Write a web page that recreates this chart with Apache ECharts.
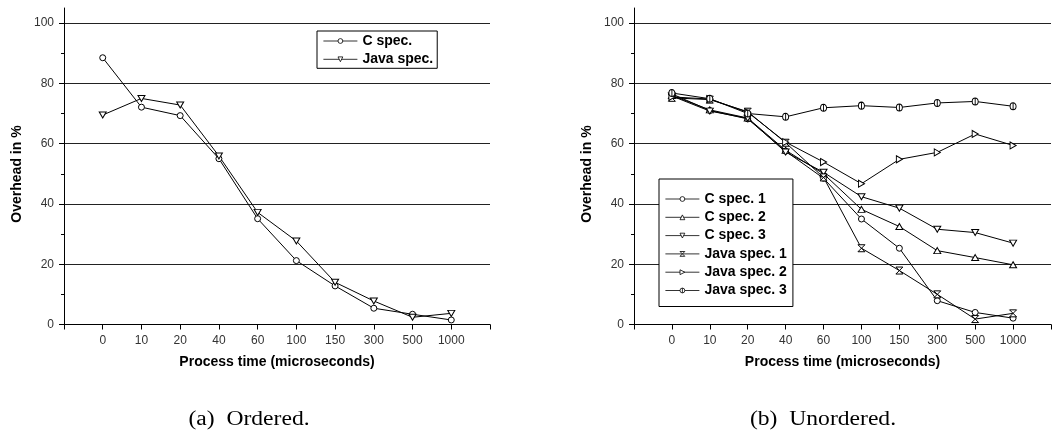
<!DOCTYPE html>
<html>
<head>
<meta charset="utf-8">
<script src="https://cdn.jsdelivr.net/npm/echarts@6/dist/echarts.min.js"></script>
<style>
  html, body { margin: 0; padding: 0; background: #fff; }
  #chart { width: 1054px; height: 446px; }
</style>
</head>
<body>
<div id="chart"></div>
<script>
// Process time categories (microseconds)
const processTimes = ['0', '10', '20', '40', '60', '100', '150', '300', '500', '1000'];
const yMajorTicks = [0, 20, 40, 60, 80, 100];
const yMinorTicks = [10, 30, 50, 70, 90];

// (a) Ordered: overhead in %
const orderedC    = [88.5, 72.1, 69.3, 55.0, 35.1, 21.2, 12.8, 5.4, 3.4, 1.5];
const orderedJava = [69.5, 75.0, 72.8, 55.9, 37.2, 27.7, 14.0, 7.8, 2.4, 3.7];

// (b) Unordered: overhead in %
const unorderedC1 = [76.5, 71.0, 68.2, 57.5, 48.5, 35.0, 25.3, 7.9, 4.0, 2.1];
const unorderedC2 = [76.0, 71.2, 68.5, 57.8, 50.0, 38.2, 32.5, 24.5, 22.2, 19.8];
const unorderedC3 = [75.8, 70.8, 68.4, 57.2, 50.5, 42.4, 38.6, 31.6, 30.5, 27.0];
const unorderedJ1 = [75.2, 74.6, 70.6, 60.3, 48.8, 25.3, 17.9, 10.0, 1.8, 3.7];
const unorderedJ2 = [75.5, 74.8, 70.4, 60.5, 53.9, 46.7, 54.8, 57.1, 63.2, 59.4];
const unorderedJ3 = [76.8, 74.9, 70.0, 68.9, 71.9, 72.6, 72.0, 73.5, 74.0, 72.4];

// One empty slot on each side of the category axis
const axisCategories = [''].concat(processTimes, ['']);
const pad = arr => [null].concat(arr, [null]);

// Marker shapes
const SYM = {
  circle: 'circle',
  triUp: 'path://M5,0L10,10L0,10Z',
  triDown: 'path://M0,0L10,0L5,10Z',
  triRight: 'path://M0,0L10,5L0,10Z',
  hourglass: 'path://M0,0L10,0L0,10L10,10Z',
  phi: 'path://M5,0A5,5,0,1,1,4.99,0ZM5,0L5,10'
};

const FONT = 'Liberation Sans, Arial, Helvetica, sans-serif';
const SERIF = '"Liberation Serif", "Times New Roman", serif';

function makeSeries(name, values, symbol, size, axisIndex) {
  return {
    name: name,
    type: 'line',
    xAxisIndex: axisIndex,
    yAxisIndex: axisIndex * 2,
    data: pad(values),
    symbol: symbol,
    symbolSize: size,
    showSymbol: true,
    connectNulls: false,
    lineStyle: { color: '#000', width: 1 },
    itemStyle: { color: '#fff', borderColor: '#000', borderWidth: 1 },
    emphasis: { disabled: true },
    z: 3
  };
}

function makeX(gridIndex) {
  return {
    type: 'category',
    gridIndex: gridIndex,
    data: axisCategories,
    boundaryGap: false,
    axisLine: { lineStyle: { color: '#000', width: 1 } },
    axisTick: { show: true, interval: 0, length: 5, lineStyle: { color: '#000' } },
    axisLabel: { interval: 0, margin: 10, fontSize: 12, fontFamily: FONT, color: '#333' },
    splitLine: { show: false },
    name: 'Process time (microseconds)',
    nameLocation: 'middle',
    nameGap: 31,
    nameTextStyle: { fontSize: 14, fontWeight: 'bold', fontFamily: FONT, color: '#000' }
  };
}

// Main y axis: line, major ticks, labels and horizontal grid lines
function makeY(gridIndex) {
  return {
    type: 'value',
    gridIndex: gridIndex,
    min: 0,
    max: 105,
    interval: 20,
    axisLine: { show: true, lineStyle: { color: '#000', width: 1 } },
    axisTick: { show: true, length: 5, lineStyle: { color: '#000' }, customValues: yMajorTicks },
    minorTick: { show: false },
    axisLabel: { margin: 10, fontSize: 12, fontFamily: FONT, color: '#333', customValues: yMajorTicks },
    splitLine: { show: true, showMinLine: false, lineStyle: { color: '#222', width: 1 } }
  };
}

// Companion y axis carrying only the short minor ticks
function makeYMinor(gridIndex) {
  return {
    type: 'value',
    gridIndex: gridIndex,
    position: 'left',
    min: 0,
    max: 105,
    interval: 20,
    axisLine: { show: false },
    axisTick: { show: true, length: 3, lineStyle: { color: '#000' }, customValues: yMinorTicks },
    axisLabel: { show: false },
    splitLine: { show: false }
  };
}

function makeLegend(names, left, top, padding) {
  return {
    data: names,
    orient: 'vertical',
    left: left,
    top: top,
    padding: padding,
    itemGap: 4.3,
    itemWidth: 34,
    itemHeight: 6,
    selectedMode: false,
    backgroundColor: '#fff',
    borderColor: '#000',
    borderWidth: 1,
    borderRadius: 0,
    itemStyle: { color: '#fff', borderColor: '#000', borderWidth: 0.8 },
    lineStyle: { color: '#000', width: 0.8 },
    textStyle: { fontSize: 14, fontWeight: 'bold', fontFamily: FONT, color: '#000', lineHeight: 14 }
  };
}

const chart = echarts.init(document.getElementById('chart'), null, { renderer: 'canvas' });

chart.setOption({
  animation: false,
  backgroundColor: '#fff',
  grid: [
    { left: 64, top: 8, width: 426, height: 316.5 },
    { left: 634, top: 8, width: 426, height: 316.5 }
  ],
  xAxis: [makeX(0), makeX(1)],
  yAxis: [makeY(0), makeYMinor(0), makeY(1), makeYMinor(1)],
  legend: [
    makeLegend(['C spec.', 'Java spec.'], 317, 31, [3, 4, 2, 6]),
    makeLegend(['C spec. 1', 'C spec. 2', 'C spec. 3', 'Java spec. 1', 'Java spec. 2', 'Java spec. 3'], 659, 179, [13, 6, 9, 6])
  ],
  series: [
    makeSeries('C spec.', orderedC, SYM.circle, 6, 0),
    makeSeries('Java spec.', orderedJava, SYM.triDown, [7, 6], 0),
    makeSeries('C spec. 1', unorderedC1, SYM.circle, 6, 1),
    makeSeries('C spec. 2', unorderedC2, SYM.triUp, [7, 6], 1),
    makeSeries('C spec. 3', unorderedC3, SYM.triDown, [7, 6], 1),
    makeSeries('Java spec. 1', unorderedJ1, SYM.hourglass, 7, 1),
    makeSeries('Java spec. 2', unorderedJ2, SYM.triRight, [6, 7], 1),
    makeSeries('Java spec. 3', unorderedJ3, SYM.phi, [6, 7], 1)
  ],
  graphic: [
    {
      type: 'text', x: 17, y: 174, rotation: Math.PI / 2,
      style: { text: 'Overhead in %', font: 'bold 14px ' + FONT, fill: '#000', align: 'center', verticalAlign: 'middle' }
    },
    {
      type: 'text', x: 587, y: 174, rotation: Math.PI / 2,
      style: { text: 'Overhead in %', font: 'bold 14px ' + FONT, fill: '#000', align: 'center', verticalAlign: 'middle' }
    },
    {
      type: 'text', x: 249, y: 420, scaleX: 1.18,
      style: { text: '(a)  Ordered.', font: '20px ' + SERIF, fill: '#000', align: 'center', verticalAlign: 'middle' }
    },
    {
      type: 'text', x: 823, y: 420, scaleX: 1.18,
      style: { text: '(b)  Unordered.', font: '20px ' + SERIF, fill: '#000', align: 'center', verticalAlign: 'middle' }
    }
  ]
});
</script>
</body>
</html>
